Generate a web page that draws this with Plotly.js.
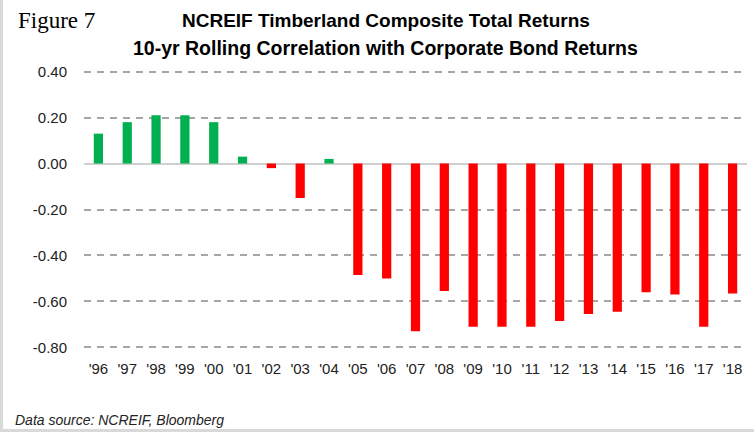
<!DOCTYPE html>
<html>
<head>
<meta charset="utf-8">
<script src="https://cdn.plot.ly/plotly-3.0.1.min.js"></script>
<style>
html,body{margin:0;padding:0;background:#fff;}
#wrap{width:751px;height:429px;border-left:3px solid #D9D9D9;border-bottom:3px solid #D9D9D9;}
#chart{width:751px;height:429px;}
</style>
</head>
<body>
<div id="wrap"><div id="chart"></div></div>
<script>
const years = ["'96","'97","'98","'99","'00","'01","'02","'03","'04","'05","'06","'07","'08","'09","'10","'11","'12","'13","'14","'15","'16","'17","'18"];
const correlation = [0.13,0.18,0.21,0.21,0.18,0.03,-0.02,-0.15,0.02,-0.485,-0.50,-0.73,-0.555,-0.71,-0.71,-0.71,-0.685,-0.655,-0.645,-0.56,-0.57,-0.71,-0.565];
const yTicks = [0.4,0.2,0,-0.2,-0.4,-0.6,-0.8];
const yTickLabels = ["0.40","0.20","0.00","-0.20","-0.40","-0.60","-0.80"];

const colors = correlation.map(v => v >= 0 ? '#00B050' : '#FF0000');
const sans = '"Liberation Sans", Arial, sans-serif';

const trace = {
  type: 'bar',
  x: years,
  y: correlation,
  width: 0.32,
  marker: {color: colors, line: {width: 0}},
  hoverinfo: 'skip'
};

const layout = {
  width: 751, height: 429,
  margin: {l: 81, r: 7, t: 67, b: 77},
  paper_bgcolor: '#fff', plot_bgcolor: '#fff',
  showlegend: false,
  xaxis: {
    type: 'category',
    showgrid: false, zeroline: false, showline: false,
    ticks: 'outside', ticklen: 3, tickcolor: 'rgba(0,0,0,0)',
    tickfont: {family: sans, size: 15, color: '#222'}
  },
  yaxis: {
    range: [-0.82, 0.42],
    tickvals: yTicks, ticktext: yTickLabels,
    showgrid: true, gridcolor: '#A6A6A6', gridwidth: 2, griddash: '7px,6px',
    zeroline: true, zerolinecolor: '#D0D0D0', zerolinewidth: 2,
    showline: false, ticks: '',
    tickfont: {family: sans, size: 15, color: '#222'},
    ticklabelstandoff: 16
  },
  annotations: [
    {text: '<b>NCREIF Timberland Composite Total Returns</b>', xref: 'paper', yref: 'paper', x: 0.455, y: 1, yshift: 47, xanchor: 'center', yanchor: 'middle', showarrow: false,
     font: {family: sans, size: 19, color: '#000'}},
    {text: '<b>10-yr Rolling Correlation with Corporate Bond Returns</b>', xref: 'paper', yref: 'paper', x: 0.455, y: 1, yshift: 19, xanchor: 'center', yanchor: 'middle', showarrow: false,
     font: {family: sans, size: 19.5, color: '#000'}},
    {text: 'Figure 7', xref: 'paper', yref: 'paper', x: 0, xshift: -68, y: 1, yshift: 47, xanchor: 'left', yanchor: 'middle', showarrow: false,
     font: {family: '"Liberation Serif", "DejaVu Serif", serif', size: 23, color: '#000'}},
    {text: '<i>Data source: NCREIF, Bloomberg</i>', xref: 'paper', yref: 'paper', x: 0, xshift: -71, y: 0, yshift: -68, xanchor: 'left', yanchor: 'middle', showarrow: false,
     font: {family: sans, size: 14, color: '#222'}}
  ]
};

Plotly.newPlot('chart', [trace], layout, {displayModeBar: false, staticPlot: true});
</script>
</body>
</html>
